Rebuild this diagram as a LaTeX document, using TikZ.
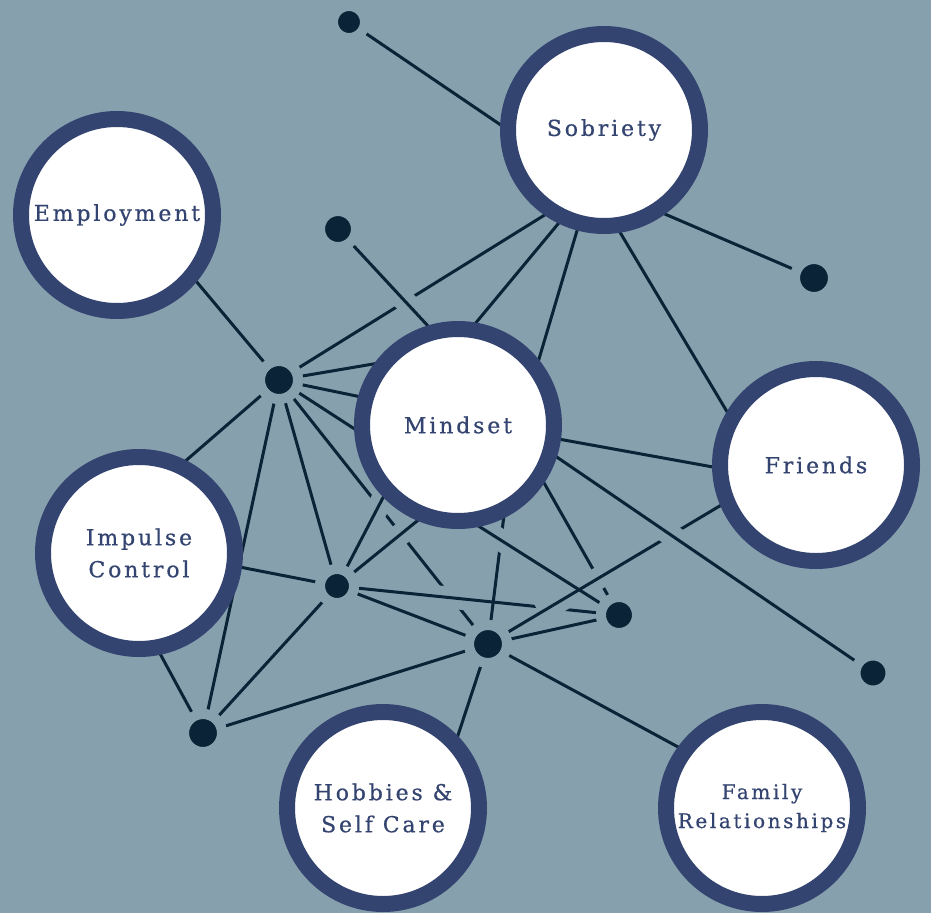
\documentclass[tikz,border=0pt]{standalone}
\usepackage{fontspec}
\newfontfamily\lblfont[LetterSpace=13, FakeBold=0.6]{DejaVu Serif}
\definecolor{bgc}{RGB}{135,160,173}
\definecolor{ringc}{RGB}{52,68,112}
\definecolor{dotc}{RGB}{10,35,54}
\definecolor{linkc}{RGB}{10,35,54}
\pgfdeclarelayer{back}
\pgfdeclarelayer{lines}
\pgfsetlayers{back,lines,main}
\tikzset{
  hub/.style      = {circle, draw=ringc, line width=16pt, fill=white,
                     minimum size=192pt, inner sep=0pt, outer sep=8pt,
                     text=ringc, align=center,
                     font=\lblfont\fontsize{22}{32}\selectfont},
  junction/.style = {circle, fill=dotc, draw=bgc, line width=10pt,
                     inner sep=0pt, minimum size=#1},
  junction/.default = 38pt,
  link/.style     = {draw=linkc, line width=3pt},
  halo/.style 2 args = {preaction={draw=bgc, line width=22pt,
                     shorten <=#1, shorten >=#2}},
  dotdot/.style   = {link, halo={36pt}{36pt}},
  hubdot/.style   = {link, shorten <=-30pt, halo={-30pt}{36pt}},
  hubhub/.style   = {link, shorten <=-30pt, shorten >=-30pt, halo={-30pt}{-30pt}}
}
\begin{document}
\begin{tikzpicture}[x=1pt, y=-1pt]
  \useasboundingbox (0,0) rectangle (931,913);
  \begin{pgfonlayer}{back}
    \fill[bgc] (0,0) rectangle (931,913);
  \end{pgfonlayer}

  \node[hub] (sobriety)   at (604,130) {Sobriety};
  \node[hub] (employment) at (117,215) {Employment};
  \node[hub] (mindset)    at (458,425) {Mindset};
  \node[hub] (friends)    at (816,465) {Friends};
  \node[hub] (impulse)    at (139,553) {Impulse\\Control};
  \node[hub] (hobbies)    at (383,808) {Hobbies \&\\Self Care};
  \node[hub, font=\lblfont\fontsize{20}{29}\selectfont]
             (family)     at (762,808) {Family\\Relationships};

  \node[junction=32pt] (j1) at (349,22)  {};
  \node[junction=36pt] (j2) at (338,229) {};
  \node[junction]      (j3) at (279,380) {};
  \node[junction]      (j4) at (814,278) {};
  \node[junction=34pt] (j5) at (337,586) {};
  \node[junction=36pt] (j6) at (619,615) {};
  \node[junction]      (j7) at (488,644) {};
  \node[junction]      (j8) at (203,733) {};
  \node[junction=35pt] (j9) at (873,673) {};

  % later links cut a gap into the ones drawn before them
  \begin{pgfonlayer}{lines}
    \draw[dotdot] (j3) -- (j7);
    \draw[dotdot] (j5) -- (j6);
    \draw[hubdot] (mindset.296.8) -- (j7);
    \draw[hubdot] (mindset.326.8) -- (j6);
    \draw[hubdot] (friends.203) -- (j7);
    \draw[hubdot] (mindset.282) -- (j6);
    \draw[hubdot] (mindset.342) -- (j9);
    \draw[hubdot] (sobriety.235) -- (j3);
    \draw[hubdot] (mindset.107) -- (j2);
    \draw[hubdot] (mindset.224.5) -- (j5);
    \draw[hubdot] (mindset.247.4) -- (j5);

    \draw[hubdot] (sobriety.177) -- (j1);
    \draw[hubdot] (sobriety.306) -- (j4);
    \draw[hubhub] (sobriety.244) -- (mindset.80.6);
    \draw[hubhub] (sobriety.255) -- (mindset.39.6);
    \draw[hubhub] (sobriety.279) -- (friends.149);
    \draw[hubhub] (mindset.352.7) -- (friends.181.7);

    \draw[hubdot] (employment.320) -- (j3);
    \draw[hubdot] (mindset.144) -- (j3);
    \draw[hubdot] (mindset.164.5) -- (j3);
    \draw[link, shorten <=-30pt, halo={-30pt}{45pt}] (mindset.182.7) -- (j3);
    \draw[hubdot] (impulse.63) -- (j3);
    \draw[dotdot] (j3) -- (j5);
    \draw[dotdot] (j3) -- (j8);

    \draw[hubdot] (impulse.352) -- (j5);
    \draw[hubdot] (impulse.282.6) -- (j8);
    \draw[dotdot] (j5) -- (j8);
    \draw[dotdot] (j7) -- (j8);
    \draw[hubdot] (hobbies.44.2) -- (j7);
    \draw[hubdot] (family.144) -- (j7);

    \draw[link] (j5) -- (j7);
    \draw[link] (j7) -- (j6);
  \end{pgfonlayer}
\end{tikzpicture}
\end{document}
